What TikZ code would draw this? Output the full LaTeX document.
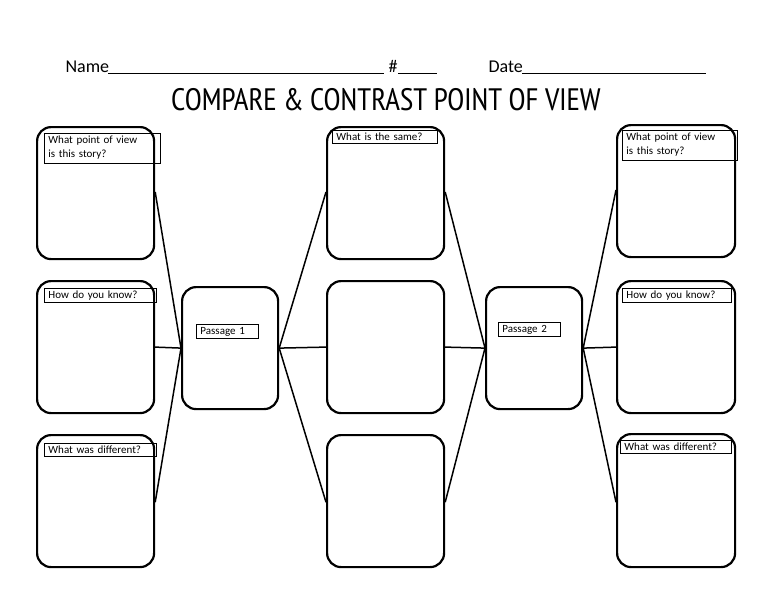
\documentclass[tikz,border=0pt]{standalone}
\usepackage{fontspec}
\setmainfont{Carlito}
\newfontfamily\titlefont{PT Sans Narrow}
\newcommand{\twoline}[2]{\parbox[t][25pt][t]{#1}{\raggedright #2}}
\begin{document}
\begin{tikzpicture}[x=1pt,y=-1pt,
  big/.style={draw,line width=2.2pt,rounded corners=14pt},
  lab/.style={draw,line width=0.9pt,anchor=north west,align=left,inner xsep=4pt,inner ysep=2.5pt,font=\fontsize{11}{14}\selectfont},
  conn/.style={line width=1.5pt}]
\useasboundingbox (0,0) rectangle (768,594);
% header
\node[anchor=base west,font=\fontsize{18}{20}\selectfont] (nm) at (62,72) {Name};
\draw[line width=0.9pt] (108,73) -- (384,73);
\node[anchor=base west,font=\fontsize{18}{20}\selectfont] (hs) at (385,72) {\#};
\draw[line width=0.9pt] (398,73) -- (437,73);
\node[anchor=base west,font=\fontsize{18}{20}\selectfont] (dt) at (485,72) {Date};
\draw[line width=0.9pt] (522,73) -- (706,73);
\node[font=\titlefont\fontsize{31}{34}\selectfont] (title) at (386,100) {COMPARE \& CONTRAST POINT OF VIEW};
% big boxes
\foreach \n/\x/\y/\w/\h in {L1/36/126/117/132, L2/36/280/117/132, L3/36/434/117/132,
  P1/181/286/96/122, M1/326/126/117/132, M2/326/280/117/132, M3/326/434/117/132,
  P2/485/286/96/122, R1/616/124/118/132, R2/616/280/118/132, R3/616/433/118/133}
  \node[big,minimum width=\w pt,minimum height=\h pt,anchor=north west] (\n) at (\x,\y) {};
% labels
\node[lab,text width=108pt] (l1) at (44,133) {\twoline{108pt}{What point of view\\is this story?}};
\node[lab,text width=104pt] (l2) at (44,288) {How do you know?};
\node[lab,text width=104pt] (l3) at (44,443) {What was different?};
\node[lab,text width=54pt] (p1) at (196,324) {Passage 1};
\node[lab,text width=97pt] (m1) at (332,130) {What is the same?};
\node[lab,text width=54pt] (p2) at (498,322) {Passage 2};
\node[lab,text width=107pt] (r1) at (622,130) {\twoline{107pt}{What point of view\\is this story?}};
\node[lab,text width=101pt] (r2) at (622,288) {How do you know?};
\node[lab,text width=103pt] (r3) at (620,440) {What was different?};
% connectors
\draw[conn] ([yshift=-66pt]L1.north east) -- (P1.west);
\draw[conn] (L2.east) -- (P1.west);
\draw[conn] ([yshift=66pt]L3.south east) -- (P1.west);
\draw[conn] (P1.east) -- ([yshift=-66pt]M1.north west);
\draw[conn] (P1.east) -- (M2.west);
\draw[conn] (P1.east) -- ([yshift=66pt]M3.south west);
\draw[conn] ([yshift=-66pt]M1.north east) -- (P2.west);
\draw[conn] (M2.east) -- (P2.west);
\draw[conn] ([yshift=66pt]M3.south east) -- (P2.west);
\draw[conn] (P2.east) -- ([yshift=-66pt]R1.north west);
\draw[conn] (P2.east) -- (R2.west);
\draw[conn] (P2.east) -- ([yshift=66pt]R3.south west);
\end{tikzpicture}
\end{document}
